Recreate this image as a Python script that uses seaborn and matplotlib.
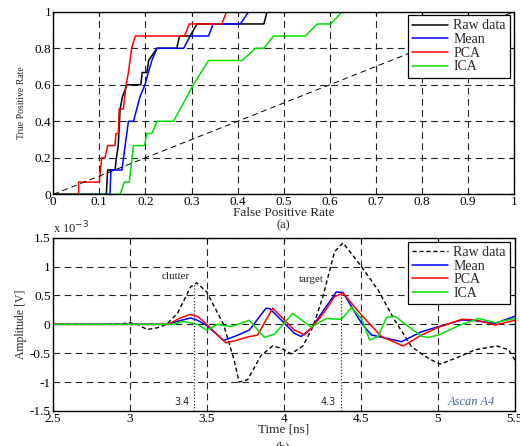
import numpy as np
import pandas as pd
import matplotlib
matplotlib.use("Agg")
import matplotlib.pyplot as plt
import seaborn as sns

# ---------------- Data: (a) ROC curves ----------------
fpr_raw = [0, 0.115, 0.118, 0.134, 0.137, 0.141, 0.145, 0.150, 0.160, 0.190, 0.193, 0.203, 0.207, 0.225,
           0.268, 0.274, 0.297, 0.312, 0.457, 0.464, 1.0]
tpr_raw = [0, 0, 0.133, 0.133, 0.200, 0.267, 0.467, 0.533, 0.600, 0.600, 0.667, 0.667, 0.733, 0.800,
           0.800, 0.867, 0.867, 0.933, 0.933, 1.0, 1.0]

fpr_mean = [0, 0.123, 0.125, 0.149, 0.156, 0.163, 0.174, 0.188, 0.199, 0.206, 0.214, 0.225, 0.283,
            0.297, 0.337, 0.347, 0.406, 0.424, 1.0]
tpr_mean = [0, 0, 0.133, 0.133, 0.267, 0.400, 0.400, 0.533, 0.600, 0.667, 0.733, 0.800, 0.800,
            0.867, 0.867, 0.933, 0.933, 1.0, 1.0]

fpr_pca = [0, 0.055, 0.055, 0.100, 0.105, 0.112, 0.118, 0.134, 0.136, 0.141, 0.143, 0.152, 0.158,
           0.163, 0.170, 0.178, 0.285, 0.295, 0.366, 0.376, 1.0]
tpr_pca = [0, 0, 0.067, 0.067, 0.200, 0.200, 0.267, 0.267, 0.333, 0.333, 0.467, 0.467, 0.600,
           0.667, 0.800, 0.867, 0.867, 0.933, 0.933, 1.0, 1.0]

fpr_ica = [0, 0.145, 0.154, 0.165, 0.174, 0.198, 0.203, 0.214, 0.225, 0.261, 0.304, 0.337, 0.410,
           0.439, 0.457, 0.478, 0.547, 0.573, 0.602, 0.627, 1.0]
tpr_ica = [0, 0, 0.067, 0.067, 0.267, 0.267, 0.333, 0.333, 0.400, 0.400, 0.600, 0.733, 0.733,
           0.800, 0.800, 0.867, 0.867, 0.933, 0.933, 1.0, 1.0]

chance_x = [0, 1]
chance_y = [0, 1]

roc_xticks = [0, 0.1, 0.2, 0.3, 0.4, 0.5, 0.6, 0.7, 0.8, 0.9, 1]
roc_xticklabels = ["0", "0.1", "0.2", "0.3", "0.4", "0.5", "0.6", "0.7", "0.8", "0.9", "1"]
roc_yticks = [0, 0.2, 0.4, 0.6, 0.8, 1]
roc_yticklabels = ["0", "0.2", "0.4", "0.6", "0.8", "1"]

# ---------------- Data: (b) A-scan (amplitude in units of 1e-3 V) ----------------
t_raw = [2.5, 2.8, 2.95, 3.0, 3.05, 3.113, 3.18, 3.24, 3.31, 3.396, 3.435, 3.5, 3.609, 3.678, 3.71,
         3.765, 3.852, 3.928, 3.982, 4.048, 4.124, 4.19, 4.254, 4.33, 4.385, 4.504, 4.613, 4.72,
         4.83, 4.939, 5.014, 5.112, 5.243, 5.384, 5.46, 5.5]
a_raw = [0, 0, 0.01, 0.03, 0.0, -0.09, -0.06, 0.0, 0.19, 0.65, 0.72, 0.56, 0.0, -0.62, -1.0,
         -0.96, -0.54, -0.375, -0.41, -0.51, -0.375, -0.04, 0.48, 1.26, 1.41, 1.0, 0.59, 0.07,
         -0.39, -0.59, -0.69, -0.59, -0.44, -0.375, -0.44, -0.62]

t_mean = [2.5, 3.25, 3.32, 3.396, 3.44, 3.5, 3.609, 3.69, 3.776, 3.885, 3.91, 4.069, 4.113, 4.178,
          4.26, 4.341, 4.385, 4.504, 4.569, 4.765, 4.895, 5.004, 5.156, 5.243, 5.373, 5.5]
a_mean = [0, 0, 0.06, 0.11, 0.07, -0.02, -0.28, -0.2, -0.1, 0.28, 0.27, -0.156, -0.21, -0.07,
          0.25, 0.56, 0.55, 0.02, -0.185, -0.3, -0.127, -0.04, 0.075, 0.063, 0.017, 0.14]

t_pca = [2.5, 3.25, 3.32, 3.39, 3.44, 3.5, 3.624, 3.69, 3.765, 3.83, 3.928, 4.069, 4.134, 4.178,
         4.26, 4.33, 4.385, 4.504, 4.634, 4.776, 4.895, 5.004, 5.156, 5.243, 5.373, 5.5]
a_pca = [0, 0, 0.1, 0.17, 0.14, 0.0, -0.32, -0.28, -0.22, -0.185, 0.28, -0.1, -0.18, -0.07,
         0.2, 0.48, 0.54, 0.16, -0.21, -0.375, -0.185, -0.05, 0.087, 0.075, -0.012, 0.07]

t_ica = [2.5, 3.28, 3.35, 3.44, 3.5, 3.57, 3.657, 3.776, 3.874, 3.94, 4.058, 4.178, 4.276, 4.374,
         4.439, 4.504, 4.558, 4.613, 4.667, 4.721, 4.895, 4.939, 5.004, 5.156, 5.265, 5.373, 5.5]
a_ica = [0, 0, 0.05, 0.0, -0.1, 0.0, -0.04, 0.07, -0.225, -0.17, 0.19, -0.05, 0.1, 0.087,
         0.29, 0.1, -0.27, -0.21, 0.12, 0.14, -0.21, -0.225, -0.185, 0.0, 0.1, 0.03, 0.1]

clutter_t, clutter_top = 3.42, 0.70
target_t, target_top = 4.37, 0.55

scan_xticks = [2.5, 3, 3.5, 4, 4.5, 5, 5.5]
scan_xticklabels = ["2.5", "3", "3.5", "4", "4.5", "5", "5.5"]
scan_yticks = [-1.5, -1, -0.5, 0, 0.5, 1, 1.5]
scan_yticklabels = ["-1.5", "-1", "-0.5", "0", "0.5", "1", "1.5"]

# ---------------- Styling ----------------
sns.set_theme(style="white")
plt.rcParams["font.family"] = ["Liberation Serif", "DejaVu Serif"]
plt.rcParams["xtick.direction"] = "in"
plt.rcParams["ytick.direction"] = "in"
plt.rcParams["axes.edgecolor"] = "black"
plt.rcParams["axes.linewidth"] = 1.0

fig = plt.figure(figsize=(5.2, 4.46), dpi=100)
ax1 = fig.add_axes([0.1025, 0.5643, 0.886, 0.4094])
ax2 = fig.add_axes([0.1012, 0.0785, 0.889, 0.3886])

grid_kw = dict(color="#222222", linewidth=0.8, linestyle=(0, (6, 4)))
lw = 1.1
tick_fs = 9.5
leg_kw = dict(fontsize=10, frameon=True, fancybox=False, edgecolor="black", framealpha=1,
              handlelength=2.6, handletextpad=0.35, labelspacing=0.05, borderpad=0.3,
              borderaxespad=0)

# ---- (a) ----
sns.lineplot(x=fpr_raw, y=tpr_raw, ax=ax1, color="black", lw=lw, sort=False, estimator=None, label="Raw data")
sns.lineplot(x=fpr_mean, y=tpr_mean, ax=ax1, color="#0000ff", lw=lw, sort=False, estimator=None, label="Mean")
sns.lineplot(x=fpr_pca, y=tpr_pca, ax=ax1, color="#ff0000", lw=lw, sort=False, estimator=None, label="PCA")
sns.lineplot(x=fpr_ica, y=tpr_ica, ax=ax1, color="#00e000", lw=lw, sort=False, estimator=None, label="ICA")
ax1.plot(chance_x, chance_y, color="black", lw=0.7, linestyle=(0, (6, 4)))
ax1.set_xlim(0, 1)
ax1.set_ylim(0, 1)
ax1.set_xticks(roc_xticks)
ax1.set_xticklabels(roc_xticklabels)
ax1.set_yticks(roc_yticks)
ax1.set_yticklabels(roc_yticklabels)
ax1.grid(True, **grid_kw)
ax1.set_axisbelow(True)
ax1.tick_params(axis="both", labelsize=tick_fs, length=3, width=0.8, pad=1.5,
                top=True, right=True, colors="black")
ax1.set_xlabel("False Positive Rate", fontsize=9.5, labelpad=-1)
ax1.set_ylabel("True Positive Rate", fontsize=7, labelpad=6)
leg1 = ax1.legend(loc="upper right", bbox_to_anchor=(0.991, 0.981), **leg_kw)
leg1.get_frame().set_linewidth(0.9)

# ---- (b) ----
sns.lineplot(x=t_raw, y=a_raw, ax=ax2, color="black", lw=1.0, sort=False, estimator=None,
             label="Raw data", linestyle=(0, (3, 2)))
sns.lineplot(x=t_mean, y=a_mean, ax=ax2, color="#0000ff", lw=lw, sort=False, estimator=None, label="Mean")
sns.lineplot(x=t_pca, y=a_pca, ax=ax2, color="#ff0000", lw=lw, sort=False, estimator=None, label="PCA")
sns.lineplot(x=t_ica, y=a_ica, ax=ax2, color="#00e000", lw=lw, sort=False, estimator=None, label="ICA")
ax2.vlines([clutter_t], [-1.5], [clutter_top], colors="#333333", linestyles=(0, (1, 1.5)), lw=0.9)
ax2.vlines([target_t], [-1.5], [target_top], colors="#333333", linestyles=(0, (1, 1.5)), lw=0.9)
ax2.set_xlim(2.5, 5.5)
ax2.set_ylim(-1.5, 1.5)
ax2.set_xticks(scan_xticks)
ax2.set_xticklabels(scan_xticklabels)
ax2.set_yticks(scan_yticks)
ax2.set_yticklabels(scan_yticklabels)
ax2.grid(True, **grid_kw)
ax2.set_axisbelow(True)
ax2.tick_params(axis="both", labelsize=tick_fs, length=3, width=0.8, pad=1.5,
                top=True, right=True, colors="black")
ax2.set_xlabel("Time [ns]", fontsize=9.5, labelpad=-1)
ax2.set_ylabel("Amplitude [V]", fontsize=8.5, labelpad=2)
ax2.text(0.0, 1.01, r"x 10$^{-3}$", transform=ax2.transAxes, fontsize=9, ha="left", va="bottom")
ax2.text(3.30, 0.82, "clutter", fontsize=8, ha="center", va="center", color="#222222")
ax2.text(4.18, 0.77, "target", fontsize=8, ha="center", va="center", color="#222222")
ax2.text(3.34, -1.34, "3.4", fontsize=7, ha="center", va="center", color="#222222",
         family=["DejaVu Sans"])
ax2.text(4.287, -1.34, "4.3", fontsize=7, ha="center", va="center", color="#222222",
         family=["DejaVu Sans"])
ax2.text(5.22, -1.34, "Ascan A4", fontsize=9, ha="center", va="center", color="#4a6a9a",
         style="italic")
leg2 = ax2.legend(loc="upper right", bbox_to_anchor=(0.989, 0.977), **leg_kw)
leg2.get_frame().set_linewidth(0.9)

fig.text(0.544, 0.4955, "(a)", fontsize=9, ha="center", va="center")
fig.text(0.544, -0.003, "(b)", fontsize=9, ha="center", va="center")

fig.savefig("out.png", dpi=100)
